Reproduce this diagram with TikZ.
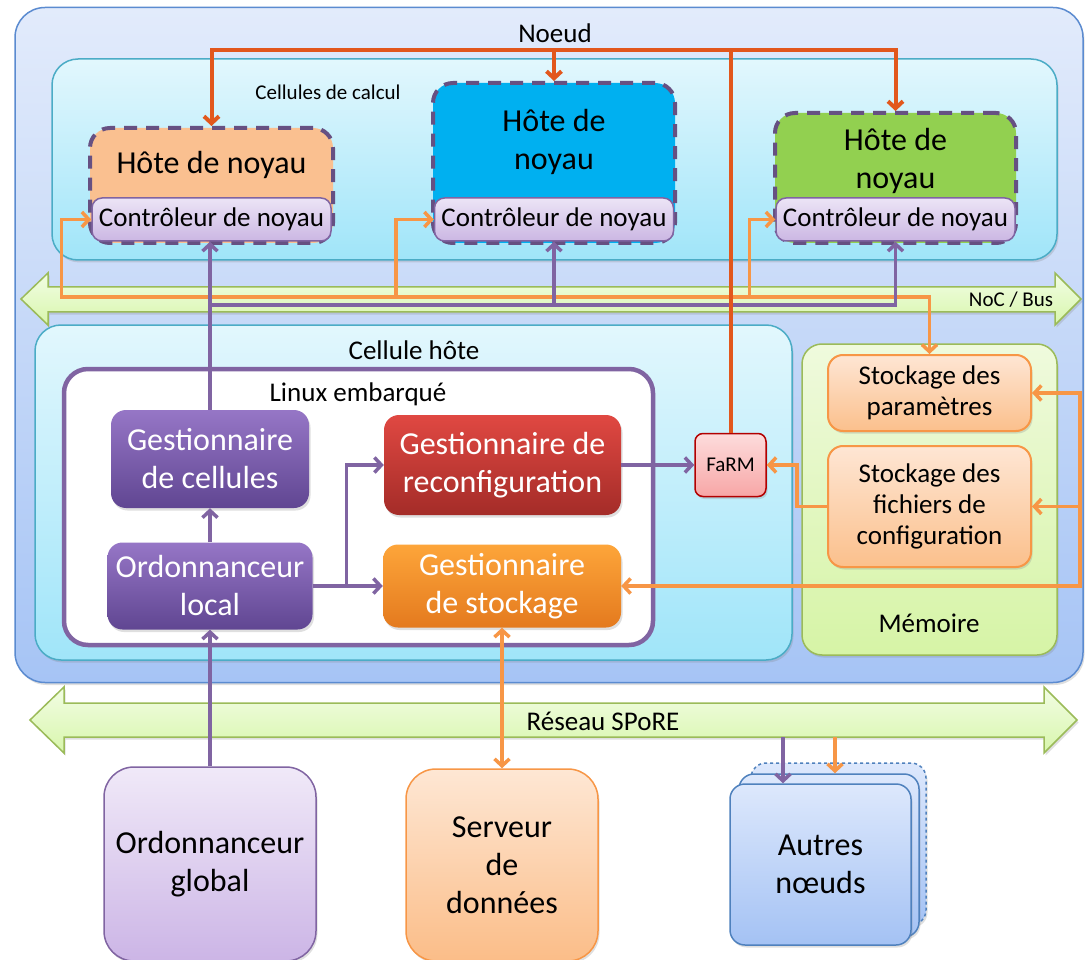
\documentclass[tikz,border=0pt]{standalone}
\usepackage{fontspec}
\setmainfont{Carlito}
\usetikzlibrary{arrows.meta,shadows}

\definecolor{violetfc}{HTML}{8064A2}
\definecolor{orangefc}{HTML}{F79646}
\definecolor{rougefc}{HTML}{E2571C}
\definecolor{bleufc}{HTML}{5B8BD0}
\definecolor{cyanfc}{HTML}{4BACC6}
\definecolor{vertfc}{HTML}{9BBB59}
\definecolor{peche}{HTML}{FAC090}
\definecolor{azur}{HTML}{00B0F0}
\definecolor{anis}{HTML}{92D050}

\begin{document}
\begin{tikzpicture}[x=1pt, y=-1pt, every node/.style={align=center, inner sep=2pt}, >={Straight Barb[length=7pt,width=15pt]},
	t31/.style={font=\fontsize{32}{38}\selectfont},
	t26/.style={font=\fontsize{27}{31}\selectfont},
	t21/.style={font=\fontsize{21}{25}\selectfont},
	ombre/.style={drop shadow={opacity=0.25, shadow xshift=1.5pt, shadow yshift=-2.5pt}},
	zone/.style={draw=cyanfc, line width=1.5pt, rounded corners=26pt, top color={rgb,255:red,226;green,247;blue,253}, bottom color={rgb,255:red,160;green,229;blue,249}, ombre},
	hote/.style={draw=violetfc!80!black, line width=4pt, dash pattern=on 13pt off 9pt, rounded corners=20pt},
	ctrl/.style={t26, draw=violetfc, line width=1.5pt, rounded corners=10pt, top color={rgb,255:red,236;green,228;blue,246}, bottom color={rgb,255:red,203;green,183;blue,227}, minimum width=239pt, minimum height=43pt},
	gest/.style={t31, text=white, rounded corners=15pt, ombre},
	mauve/.style={top color={rgb,255:red,150;green,118;blue,198}, bottom color={rgb,255:red,96;green,70;blue,146}},
	stock/.style={t26, draw=orangefc, line width=2pt, rounded corners=15pt, top color={rgb,255:red,254;green,230;blue,212}, bottom color={rgb,255:red,251;green,192;blue,140}, minimum width=203pt, ombre},
	ext/.style={t31, line width=1.5pt, rounded corners=30pt, ombre},
	autre/.style={ext, draw={rgb,255:red,79;green,129;blue,189}, rounded corners=15pt, top color={rgb,255:red,221;green,232;blue,252}, bottom color={rgb,255:red,164;green,194;blue,244}},
	bus/.style={draw=vertfc, line width=1.5pt, top color={rgb,255:red,242;green,253;blue,228}, bottom color={rgb,255:red,216;green,246;blue,172}, ombre},
	vl/.style={draw=violetfc, line width=3.5pt},
	ol/.style={draw=orangefc, line width=3.5pt},
	rl/.style={draw=rougefc, line width=4pt, ->}]
	\useasboundingbox (0,0) rectangle (1085,960);
	% le noeud et ses zones
	\node[draw=bleufc, line width=1.5pt, rounded corners=30pt, top color={rgb,255:red,226;green,235;blue,251}, bottom color={rgb,255:red,166;green,196;blue,245}, ombre, minimum width=1068pt, minimum height=675pt] (noeud) at (549,345) {};
	\node[t26] (tnoeud) at (555,33) {Noeud};
	\node[zone, minimum width=1005pt, minimum height=201pt] (cc) at (554.5,159.5) {};
	\node[t21] (tcc) at (328,92) {Cellules de calcul};
	\draw[bus] (21,299) -- (48,273) -- (48,287) -- (1055,287) -- (1055,273) -- (1081,299) -- (1055,325) -- (1055,312) -- (48,312) -- (48,325) -- cycle;
	\node[t21] (tnoc) at (1011,300) {NoC / Bus};
	\node[zone, minimum width=757pt, minimum height=335pt] (ch) at (413.5,492.5) {};
	\node[t26] (tch) at (414,350) {Cellule hôte};
	\node[draw=violetfc, line width=4.5pt, fill=white, rounded corners=24pt, minimum width=589pt, minimum height=276pt] (le) at (358.5,507) {};
	\node[t26] (tle) at (358,394) {Linux embarqué};
	\node[draw=vertfc, line width=1.5pt, rounded corners=20pt, top color={rgb,255:red,239;green,250;blue,221}, bottom color={rgb,255:red,214;green,244;blue,166}, ombre, minimum width=255pt, minimum height=311pt] (mem) at (929.5,499.5) {};
	\node[t26] (tmem) at (929,623) {Mémoire};
	% hotes de noyau
	\node[hote, fill=peche, minimum width=243pt, minimum height=115pt] (k1) at (211.5,185.5) {};
	\node[hote, fill=azur, minimum width=242pt, minimum height=160pt] (k2) at (554,163) {};
	\node[hote, fill=anis, minimum width=241pt, minimum height=130pt] (k3) at (895.5,178) {};
	\node[t31] (h1) at (211.5,165) {Hôte de noyau};
	\node[t31] (h2) at (554,142) {Hôte de\\noyau};
	\node[t31] (h3) at (895.5,161) {Hôte de\\noyau};
	\node[ctrl] (c1) at (211.5,219.5) {Contrôleur de noyau};
	\node[ctrl] (c2) at (554,219.5) {Contrôleur de noyau};
	\node[ctrl] (c3) at (895.5,219.5) {Contrôleur de noyau};
	% cellule hote
	\node[gest, mauve, minimum width=198pt, minimum height=98pt] (gc) at (210,459) {Gestionnaire\\de cellules};
	\node[gest, mauve, minimum width=205pt, minimum height=87pt] (ol) at (210,586) {Ordonnanceur\\local};
	\node[gest, top color={rgb,255:red,224;green,72;blue,66}, bottom color={rgb,255:red,164;green,44;blue,40}, minimum width=237pt, minimum height=100pt] (gr) at (502.5,465) {Gestionnaire de\\reconfiguration};
	\node[gest, top color={rgb,255:red,253;green,165;blue,58}, bottom color={rgb,255:red,228;green,122;blue,30}, minimum width=238pt, minimum height=83pt] (gs) at (502,586) {Gestionnaire\\de stockage};
	\node[t21, draw=red!70!black, line width=1.5pt, rounded corners=8pt, top color={rgb,255:red,253;green,220;blue,220}, bottom color={rgb,255:red,247;green,166;blue,166}, ombre, minimum width=71pt, minimum height=63pt] (farm) at (730.5,465) {FaRM};
	\node[stock, minimum height=76pt] (p1) at (929.5,393) {Stockage des\\paramètres};
	\node[stock, minimum height=121pt] (p2) at (929.5,506.5) {Stockage des\\fichiers de\\configuration};
	% reseau et exterieur
	\draw[bus] (30,720) -- (64,687) -- (64,703) -- (1044,703) -- (1044,687) -- (1077,720) -- (1044,753) -- (1044,737) -- (64,737) -- (64,753) -- cycle;
	\node[t26] (treseau) at (603,721) {Réseau SPoRE};
	\node[ext, draw=violetfc, top color={rgb,255:red,240;green,233;blue,248}, bottom color={rgb,255:red,204;green,181;blue,230}, minimum width=212pt, minimum height=194pt] (og) at (210,864) {Ordonnanceur\\global};
	\node[ext, draw=orangefc, top color={rgb,255:red,254;green,231;blue,212}, bottom color={rgb,255:red,251;green,189;blue,136}, minimum width=192pt, minimum height=192pt] (sd) at (502,865) {Serveur\\de\\données};
	\node[autre, dashed, minimum width=175pt, minimum height=162pt] (a3) at (838.5,844) {};
	\node[autre, minimum width=180pt, minimum height=163pt] (a2) at (829,855.5) {};
	\node[autre, minimum width=181pt, minimum height=161pt] (a1) at (820.5,864.5) {Autres\\nœuds};
	\coordinate (haut) at (0,50);
	\coordinate (nocv) at (0,305);
	\coordinate (noco) at (0,297);
	\coordinate (r1) at (783,737);
	\coordinate (r2) at (835,737);
	% liaisons
	\draw[ol, <->] (c1.west) -- ++(-30,0) |- (p1.north |- noco) -- (p1.north);
	\draw[ol, <-] (c2.west) -| ([xshift=-38pt]c2.west |- noco);
	\draw[ol, <-] (c3.west) -| ([xshift=-26pt]c3.west |- noco);
	\draw[vl, ->] (gc.north) -- (gc.north |- c1.south);
	\draw[vl, ->] (gc.north |- nocv) -| (c3.south);
	\draw[vl, ->] (c2.south |- nocv) -- (c2.south);
	\draw[rl] (farm.north) -- (farm.north |- haut) -| (k1.north);
	\draw[rl] (farm.north |- haut) -| (k3.north);
	\draw[rl] (k2.north |- haut) -- (k2.north);
	\draw[vl, ->] (ol.north) -- (gc.south);
	\draw[vl, ->] (og.north) -- (ol.south);
	\draw[vl, ->] (ol.east) -- (gs.west);
	\draw[vl, ->] (ol.east) ++(34,0) |- (gr.west);
	\draw[vl, ->] (gr.east) -- (farm.west);
	\draw[ol, <->] (p1.east) -- ++(48,0) |- (gs.east);
	\draw[ol, ->] (p1.east) ++(48,0) |- (p2.east);
	\draw[ol, ->] (p2.west) -- ++(-30,0) |- (farm.east);
	\draw[ol, <->] (gs.south) -- (sd.north);
	\draw[vl, ->] (r1) -- (r1 |- a1.north);
	\draw[ol, ->] (r2) -- (r2 |- a2.north);
\end{tikzpicture}
\end{document}
